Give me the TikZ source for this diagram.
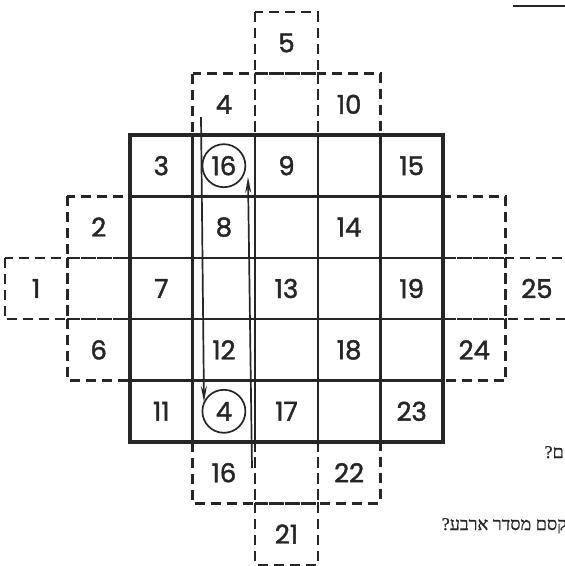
\documentclass[tikz,border=0pt]{standalone}
\usepackage{fontspec}
\setmainfont{Poppins}
\newfontfamily\numfont{Poppins}[FakeBold=1.6]
\newfontfamily\hebfont[Script=Hebrew,FakeBold=0.8]{Liberation Serif}
\TeXXeTstate=1
\usetikzlibrary{arrows.meta}
\begin{document}
\begin{tikzpicture}[x=1pt,y=-1pt,
  num/.style={font=\numfont\fontsize{26}{30}\selectfont, inner sep=0pt, text=black!85},
  circ/.style={num, draw=black!85, circle, line width=1.7pt, minimum size=43pt},
  dcell/.style={draw=black!85, line width=2.4pt, dash pattern=on 10pt off 6pt},
  inner/.style={draw=black!85, line width=2.3pt},
  outer/.style={draw=black!85, line width=3.4pt},
  arr/.style={draw=black!85, line width=1.7pt, -{Stealth[length=16pt,width=6pt]}},
  heb/.style={font=\hebfont\fontsize{18}{22}\selectfont, inner sep=0pt, text=black!85}]
\useasboundingbox (0,0) rectangle (565,566);
\begin{scope}[shift={(130,135)}, x=62.6pt, y=-61.4pt]
  % dashed cells outside the square
  \foreach \i/\j in {3/-1, 2/0, 3/0, 4/0, 0/2, 0/3, 0/4, -1/3, 6/2, 6/3, 6/4, 7/3, 2/6, 3/6, 4/6, 3/7}
    \draw[dcell] (\i-1,\j-1) rectangle (\i,\j);
  % main grid
  \foreach \k in {1,2,3,4} {
    \draw[inner] (\k,0) -- (\k,5);
    \draw[inner] (0,\k) -- (5,\k);
  }
  \draw[outer] (0,0) rectangle (5,5);
  % numbers
  \node[num] (n1) at (-1.5,2.5) {1};
  \node[num] (n2) at (-0.5,1.5) {2};
  \node[num] (n3) at (0.5,0.5) {3};
  \node[num] (n4) at (1.5,-0.5) {4};
  \node[num] (n5) at (2.5,-1.5) {5};
  \node[num] (n6) at (-0.5,3.5) {6};
  \node[num] (n7) at (0.5,2.5) {7};
  \node[num] (n8) at (1.5,1.5) {8};
  \node[num] (n9) at (2.5,0.5) {9};
  \node[num] (n10) at (3.5,-0.5) {10};
  \node[num] (n11) at (0.5,4.5) {11};
  \node[num] (n12) at (1.5,3.5) {12};
  \node[num] (n13) at (2.5,2.5) {13};
  \node[num] (n14) at (3.5,1.5) {14};
  \node[num] (n15) at (4.5,0.5) {15};
  \node[num] (n16) at (1.5,5.5) {16};
  \node[num] (n17) at (2.5,4.5) {17};
  \node[num] (n18) at (3.5,3.5) {18};
  \node[num] (n19) at (4.5,2.5) {19};
  \node[num] (n21) at (2.5,6.5) {21};
  \node[num] (n22) at (3.5,5.5) {22};
  \node[num] (n23) at (4.5,4.5) {23};
  \node[num] (n24) at (5.5,3.5) {24};
  \node[num] (n25) at (6.5,2.5) {25};
  \node[circ] (c16) at (1.5,0.5) {16};
  \node[circ] (c4) at (1.5,4.5) {4};
\end{scope}
% arrows
\coordinate (d0) at (201,117);
\coordinate (d1) at (204,402);
\coordinate (u0) at (252,468);
\coordinate (u1) at (248,177);
\draw[arr] (d0) -- (d1);
\draw[arr] (u0) -- (u1);
% top-right rule fragment
\coordinate (t0) at (513,6);
\coordinate (t1) at (565,6);
\draw[draw=black!85, line width=1.5pt] (t0) -- (t1);
% Hebrew text fragments
\node[heb, anchor=base east] (q1) at (564,458) {\beginR ם?\endR};
\node[heb, anchor=base east] (q2) at (567,530) {\beginR קסם מסדר ארבע?\endR};
\end{tikzpicture}
\end{document}
